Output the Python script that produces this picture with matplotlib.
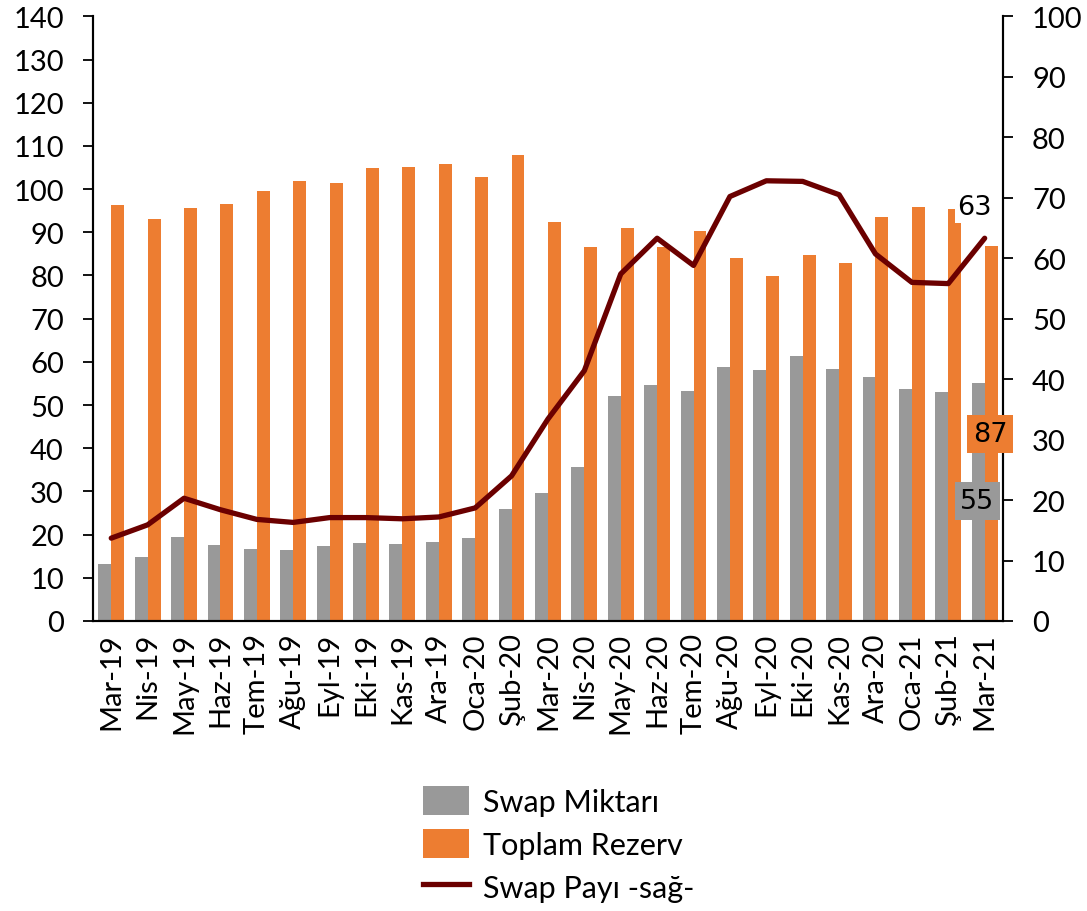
import numpy as np
import matplotlib
matplotlib.use("Agg")
import matplotlib.pyplot as plt
from matplotlib.patches import Patch
from matplotlib.lines import Line2D

plt.rcParams['font.family'] = ['Lato', 'DejaVu Sans']

# data
months = ['Mar-19', 'Nis-19', 'May-19', 'Haz-19', 'Tem-19', 'Ağu-19', 'Eyl-19',
          'Eki-19', 'Kas-19', 'Ara-19', 'Oca-20', 'Şub-20', 'Mar-20', 'Nis-20',
          'May-20', 'Haz-20', 'Tem-20', 'Ağu-20', 'Eyl-20', 'Eki-20', 'Kas-20',
          'Ara-20', 'Oca-21', 'Şub-21', 'Mar-21']
swap = [13.1, 14.7, 19.5, 17.7, 16.6, 16.4, 17.4, 18.0, 17.8, 18.3, 19.1, 26.0,
        29.7, 35.6, 52.0, 54.6, 53.2, 58.7, 58.0, 61.4, 58.3, 56.6, 53.6, 53.0, 55.1]
rezerv = [96.4, 93.0, 95.7, 96.5, 99.5, 101.8, 101.4, 104.8, 105.0, 105.9, 102.7,
          107.9, 92.4, 86.6, 91.1, 86.6, 90.3, 84.0, 79.9, 84.7, 82.9, 93.5, 95.8,
          95.4, 86.9]
swap_payi = [13.7, 15.9, 20.3, 18.4, 16.8, 16.3, 17.1, 17.1, 16.9, 17.2, 18.7, 24.0,
             33.4, 41.4, 57.4, 63.3, 58.8, 70.2, 72.8, 72.7, 70.5, 60.7, 56.0, 55.8, 63.3]

gray = '#999999'
orange = '#ED7D31'
maroon = '#6B0000'

fig = plt.figure(figsize=(10.87, 9.12), dpi=100)
ax = fig.add_axes([0.0856, 0.318, 0.837, 0.663])
ax2 = ax.twinx()

x = np.arange(len(months))
w = 0.355
ax.bar(x - w / 2, swap, w, color=gray, zorder=2)
ax.bar(x + w / 2, rezerv, w, color=orange, zorder=2)
ax2.plot(x, swap_payi, color=maroon, lw=3.8, solid_capstyle='round', zorder=3)

ax.set_xlim(-0.5, len(months) - 0.5)
ax.set_ylim(0, 140)
ax.set_yticks(np.arange(0, 141, 10))
ax2.set_ylim(0, 100)
ax2.set_yticks(np.arange(0, 101, 10))

ax.set_xticks(x)
ax.set_xticklabels(months, rotation=90, fontsize=21)
ax.tick_params(axis='x', length=0, pad=8)
ax.tick_params(axis='y', labelsize=21, length=7, width=1.3, direction='out', pad=14)
ax2.tick_params(axis='y', labelsize=21, length=7, width=1.3, direction='out', pad=14)

for a in (ax, ax2):
    a.spines['top'].set_visible(False)
    for s in ('left', 'right', 'bottom'):
        a.spines[s].set_linewidth(1.5)
        a.spines[s].set_color('black')

# end-of-series labels
last = len(months) - 1
ax2.text(last - 0.28, 68.4, f'{swap_payi[-1]:.0f}', fontsize=19.5, family='DejaVu Sans',
         ha='center', va='center',
         bbox=dict(facecolor='white', edgecolor='none', pad=2), zorder=5)
ax2.text(last + 0.16, 43.3 * 100 / 140, f'{rezerv[-1]:.0f}', fontsize=19.5,
         family='DejaVu Sans', ha='center', va='center',
         bbox=dict(facecolor=orange, edgecolor='none', pad=4), zorder=6, clip_on=False)
ax2.text(last - 0.2, 27.8 * 100 / 140, f'{swap[-1]:.0f}', fontsize=19.5,
         family='DejaVu Sans', ha='center', va='center',
         bbox=dict(facecolor=gray, edgecolor='none', pad=4), zorder=6)

handles = [Patch(facecolor=gray, label='Swap Miktarı'),
           Patch(facecolor=orange, label='Toplam Rezerv'),
           Line2D([0], [0], color=maroon, lw=3.8, label='Swap Payı -sağ-')]
fig.legend(handles=handles, loc='upper center', bbox_to_anchor=(0.514, 0.164),
           frameon=False, fontsize=22, handlelength=1.5, handleheight=1.1,
           labelspacing=0.42, handletextpad=0.45, borderpad=0.3)

fig.savefig('out.png', dpi=100)
